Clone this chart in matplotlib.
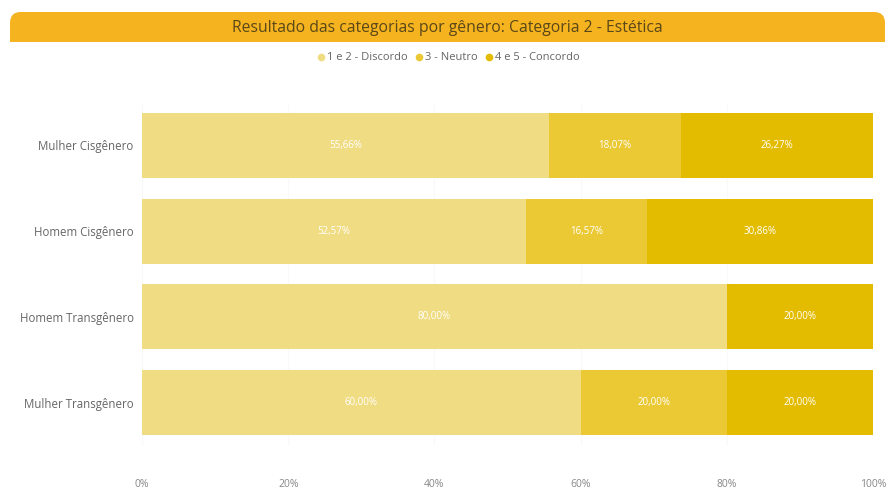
import matplotlib
matplotlib.use("Agg")
import matplotlib.pyplot as plt
from matplotlib.patches import FancyBboxPatch, Rectangle
from matplotlib.lines import Line2D

plt.rcParams["font.family"] = ["Open Sans", "DejaVu Sans"]

categorias = ["Mulher Cisgênero", "Homem Cisgênero", "Homem Transgênero", "Mulher Transgênero"]
series = ["1 e 2 - Discordo", "3 - Neutro", "4 e 5 - Concordo"]
discordo = [55.66, 52.57, 80.00, 60.00]
neutro = [18.07, 16.57, 0.0, 20.00]
concordo = [26.27, 30.86, 20.00, 20.00]
cores = ["#F0DC82", "#EBC934", "#E3BC00"]
ticks = [0, 20, 40, 60, 80, 100]

fig = plt.figure(figsize=(8.95, 4.93), dpi=100)
fig.patch.set_facecolor("white")

# faixa do título (cantos superiores arredondados)
fig.patches.append(FancyBboxPatch((10 / 895, 1 - 42 / 493), 875 / 895, 30 / 493,
                                  boxstyle="round,pad=0,rounding_size=0.012",
                                  transform=fig.transFigure, facecolor="#F5B320",
                                  edgecolor="none", mutation_aspect=895 / 493))
fig.patches.append(Rectangle((10 / 895, 1 - 42 / 493), 875 / 895, 15 / 493,
                             transform=fig.transFigure, facecolor="#F5B320", edgecolor="none"))
fig.text(0.5, 1 - 28 / 493, "Resultado das categorias por gênero: Categoria 2 - Estética",
         ha="center", va="center", fontsize=11.3, color="#5a4818")

ax = fig.add_axes([142 / 895, 1 - 445.5 / 493, 731 / 895, 343 / 493])

y = range(len(categorias))
left = [0] * len(categorias)
for vals, cor in zip([discordo, neutro, concordo], cores):
    bars = ax.barh(y, vals, left=left, height=0.76, color=cor, edgecolor="none", zorder=2)
    for b, v in zip(bars, vals):
        if v > 0:
            ax.text(b.get_x() + b.get_width() / 2, b.get_y() + b.get_height() / 2,
                    f"{v:.2f}%".replace(".", ","), ha="center", va="center",
                    fontsize=7, color="white", zorder=3)
    left = [l + v for l, v in zip(left, vals)]

ax.set_xlim(0, 100)
ax.set_ylim(3.5, -0.5)
ax.set_yticks(list(y))
ax.set_yticklabels(categorias, fontsize=8.3, color="#666666")
ax.set_xticks(ticks)
ax.set_xticklabels([f"{t}%" for t in ticks], fontsize=7.5, color="#888888")
ax.tick_params(axis="x", length=0, pad=24)
ax.tick_params(axis="y", length=0, pad=6)
ax.grid(axis="x", color="#f9f9f9", linewidth=0.8, zorder=0)
for s in ax.spines.values():
    s.set_visible(False)

handles = [Line2D([], [], marker="o", linestyle="none", markersize=5.5,
                  markerfacecolor=c, markeredgecolor="none") for c in cores]
fig.legend(handles, series, loc="center", bbox_to_anchor=(0.5, 1 - 58 / 493), ncol=3,
           frameon=False, fontsize=8, handletextpad=0.05, columnspacing=0.5,
           handlelength=1.0, labelcolor="#666666", borderaxespad=0)

fig.savefig("out.png", dpi=100, facecolor=fig.get_facecolor())
